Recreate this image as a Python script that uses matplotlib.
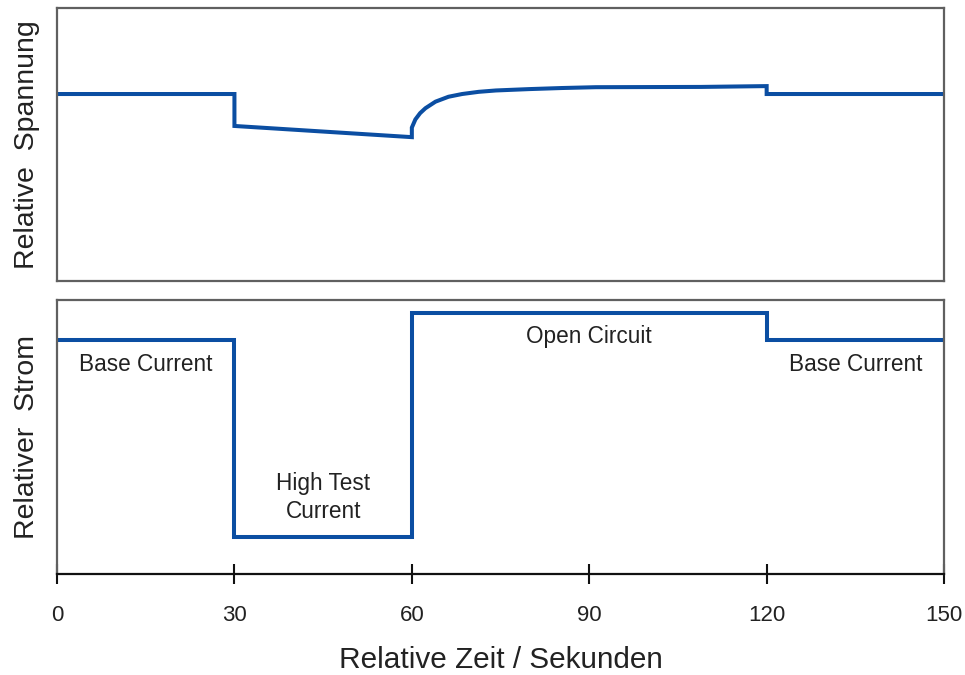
import numpy as np
import matplotlib
matplotlib.use('Agg')
from matplotlib import pyplot as plt

plt.rcParams['font.family'] = ['Liberation Sans', 'DejaVu Sans']

# Spannungsverlauf (relativ), Stützpunkte über der Zeit
volt_t = [0, 30, 30, 60, 60, 60.6, 61.4, 62.3, 64.0, 66.2, 68.5, 71.3, 74.2,
          79.8, 85.4, 91.1, 108.9, 120, 120, 150]
volt_v = [0.685, 0.685, 0.568, 0.527, 0.562, 0.592, 0.615, 0.633, 0.657, 0.675,
          0.685, 0.693, 0.698, 0.703, 0.707, 0.710, 0.711, 0.714, 0.685, 0.685]

# Stromprofil (Stufen)
curr_t = [0, 30, 60, 120, 150]
curr_v = [0.854, 0.135, 0.953, 0.854, 0.854]

phase_labels = ["Base Current", "High Test\nCurrent", "Open Circuit", "Base Current"]
phase_x = [15, 45, 90, 135]
phase_y = [0.763, 0.28, 0.866, 0.763]

x_ticks = [0, 30, 60, 90, 120, 150]

line_color = '#0b4ea2'
spine_color = '#606060'
text_color = '#222222'

fig = plt.figure(figsize=(9.65, 6.75), dpi=100)
ax_u = fig.add_axes([0.0591, 0.5837, 0.9192, 0.4044])
ax_i = fig.add_axes([0.0591, 0.1496, 0.9192, 0.4059])

# oben: Spannung
ax_u.plot(volt_t, volt_v, color=line_color, lw=2.9, solid_joinstyle='miter')
ax_u.set_xlim(0, 150)
ax_u.set_ylim(0, 1)
ax_u.set_xticks([])
ax_u.set_yticks([])
for sp in ax_u.spines.values():
    sp.set_color(spine_color)
    sp.set_linewidth(1.6)
ax_u.set_ylabel("Relative  Spannung", fontsize=20.5, color=text_color, labelpad=12)

# unten: Strom
ax_i.step(curr_t, curr_v, where='post', color=line_color, lw=2.9, solid_joinstyle='miter')
ax_i.set_xlim(0, 150)
ax_i.set_ylim(0, 1)
ax_i.set_yticks([])
ax_i.set_xticks(x_ticks)
ax_i.tick_params(axis='x', direction='inout', length=15, width=1.5, pad=15,
                 labelsize=16, labelcolor=text_color, colors='#111111')
for name in ['left', 'top', 'right']:
    ax_i.spines[name].set_color(spine_color)
    ax_i.spines[name].set_linewidth(1.6)
ax_i.spines['bottom'].set_color('#111111')
ax_i.spines['bottom'].set_linewidth(1.6)
ax_i.set_ylabel("Relativer  Strom", fontsize=20.5, color=text_color, labelpad=12)
ax_i.set_xlabel("Relative Zeit / Sekunden", fontsize=21.4, color=text_color, labelpad=14)

for txt, x, y in zip(phase_labels, phase_x, phase_y):
    ax_i.text(x, y, txt, ha='center', va='center', fontsize=16.3,
              color=text_color, linespacing=1.25)

fig.savefig('out.png', dpi=100)
